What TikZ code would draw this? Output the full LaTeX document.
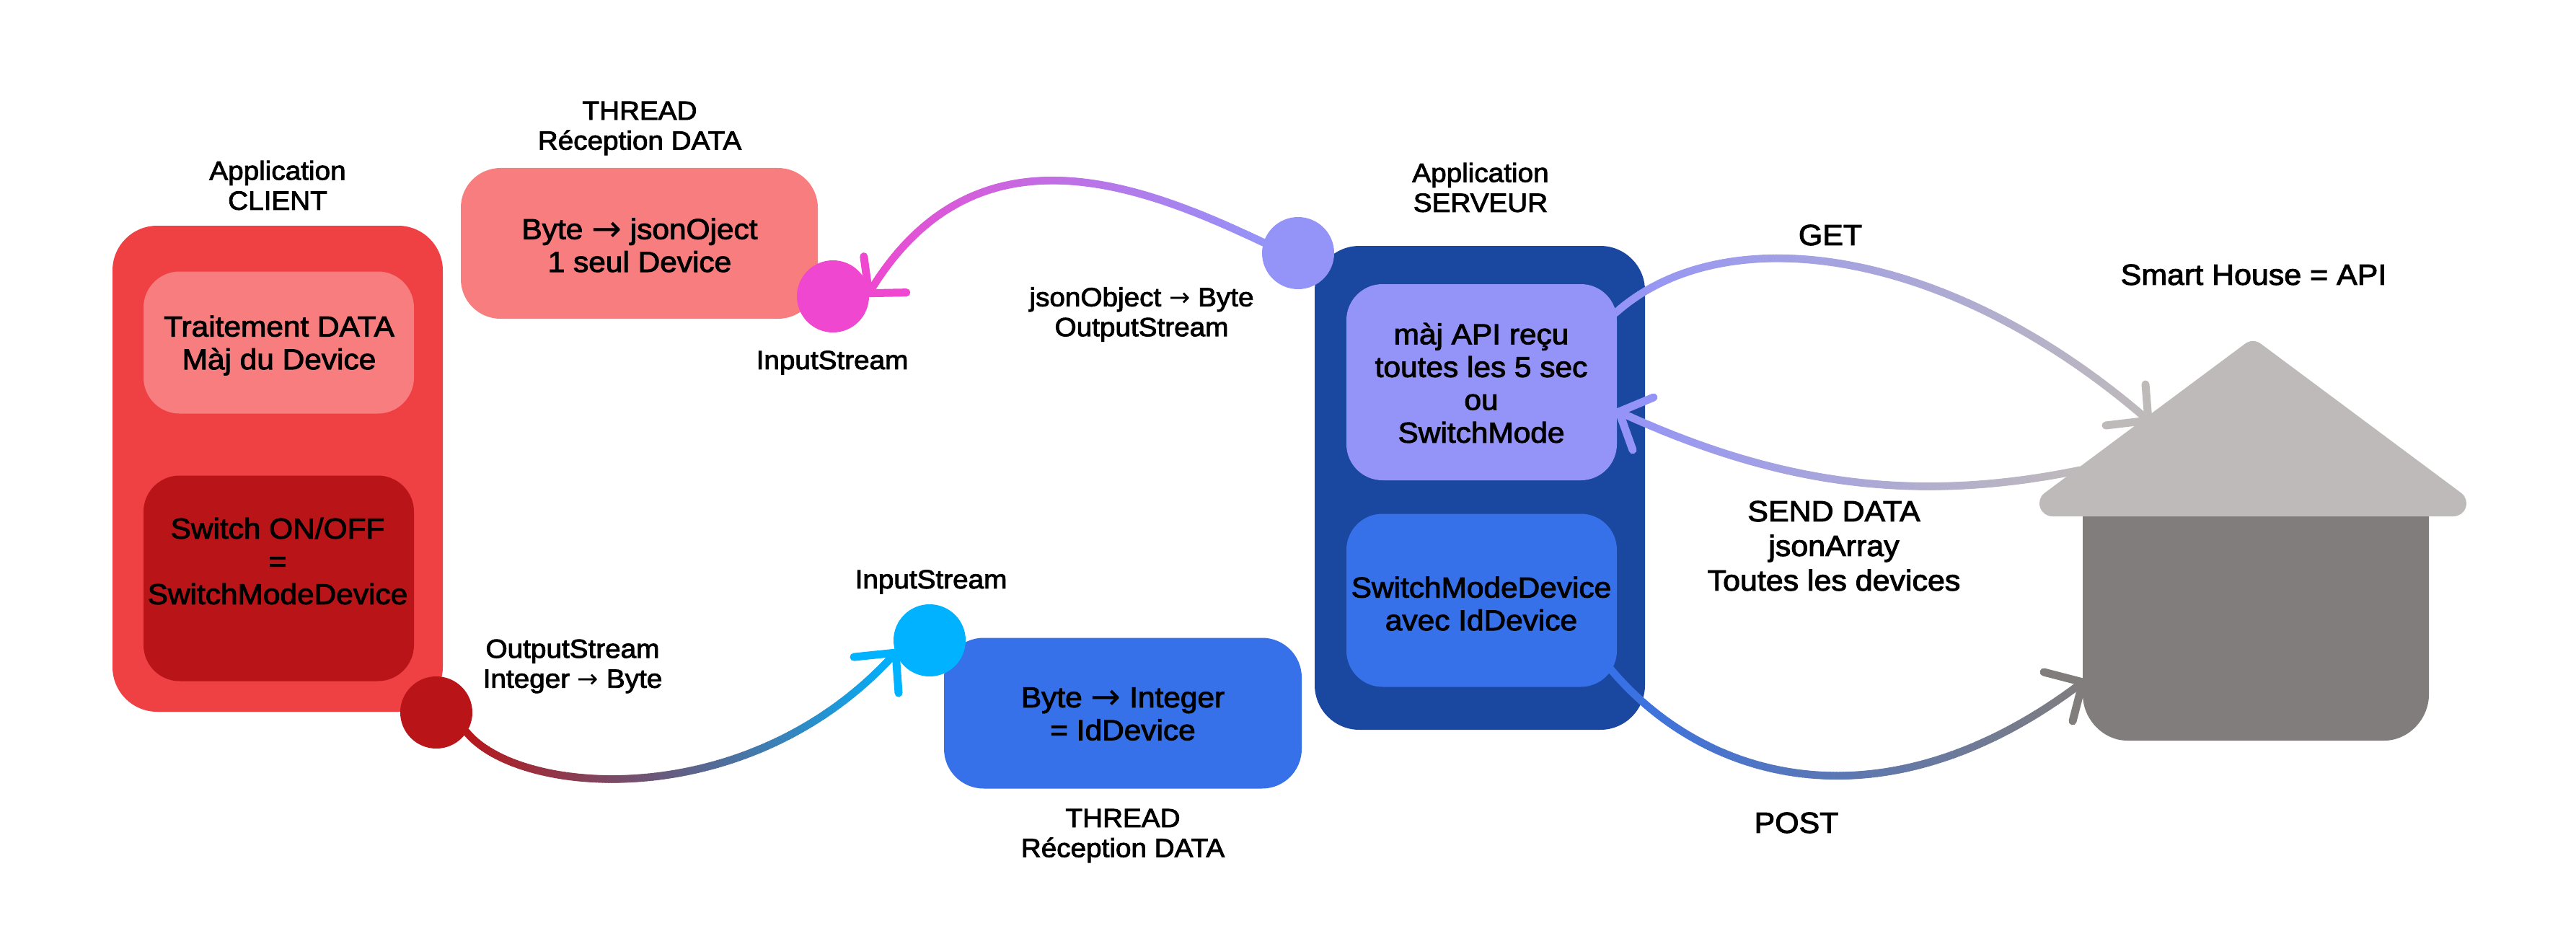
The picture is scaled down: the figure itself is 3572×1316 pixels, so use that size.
\documentclass[tikz,border=0pt]{standalone}
\usepackage{fontspec}
\setmainfont[FakeStretch=1.06,FakeBold=2.5]{Liberation Sans}
\newfontfamily\arrowf{DejaVu Sans}
\newcommand{\bigarrow}{{\arrowf\fontsize{50}{40}\selectfont\raisebox{-3pt}{→}}}
\newcommand{\smallarrow}{{\arrowf\fontsize{35}{40}\selectfont →}}
\usetikzlibrary{decorations.markings}
\definecolor{redouter}{HTML}{EF4044}
\definecolor{redlight}{HTML}{F87D7E}
\definecolor{reddark}{HTML}{B91518}
\definecolor{pinkc}{HTML}{EF47CF}
\definecolor{violetc}{HTML}{9494F8}
\definecolor{navyc}{HTML}{1A479F}
\definecolor{bluec}{HTML}{3671E9}
\definecolor{cyanc}{HTML}{00B2FF}
\definecolor{roofc}{HTML}{BFBABA}
\definecolor{bodyc}{HTML}{817D7C}
\tikzset{
  box/.style={rectangle,draw=none,rounded corners=50pt,inner sep=0pt,outer sep=0pt},
  dot/.style={circle,draw=none,minimum size=100pt,inner sep=0pt,outer sep=0pt},
  lab/.style={align=center,inner sep=0pt,font=\fontsize{36.5}{41.5}\selectfont},
  txt/.style={align=center,inner sep=0pt,font=\fontsize{40}{45.5}\selectfont},
  big/.style={align=center,inner sep=0pt,font=\fontsize{40.5}{48}\selectfont},
  arm/.style={line width=11pt,line cap=round},
  gradcurve/.style 2 args={decoration={markings,
    mark=between positions 0 and 1 step 2pt with {%
      \pgfmathsetmacro\gp{max(0,min(100,100*(1-\pgfkeysvalueof{/pgf/decoration/mark info/distance from start}/\pgfdecoratedpathlength)))}%
      \fill[#1!\gp!#2] (0,0) circle (5.5pt);}},decorate}
}
\begin{document}
\begin{tikzpicture}[x=1pt,y=-1pt]
\useasboundingbox (0,0) rectangle (3572,1316);
\fill[white] (0,0) rectangle (3572,1316);
% client
\node[box,fill=redouter,rounded corners=62pt,minimum width=458pt,minimum height=674pt] (client) at (385,650) {};
\node[box,fill=redlight,minimum width=375pt,minimum height=197pt] (traitement) at (386.5,475) {};
\node[box,fill=reddark,minimum width=375pt,minimum height=285pt] (switch) at (386.5,802) {};
\node[box,fill=redlight,rounded corners=55pt,minimum width=495pt,minimum height=209pt] (threadtop) at (886.5,337.5) {};
\node[box,fill=bluec,rounded corners=55pt,minimum width=496pt,minimum height=209pt] (threadbot) at (1557,989) {};
% server
\node[box,fill=navyc,rounded corners=62pt,minimum width=458pt,minimum height=671pt] (server) at (2052,676.5) {};
\node[box,fill=violetc,minimum width=375pt,minimum height=272pt] (maj) at (2054.5,530) {};
\node[box,fill=bluec,minimum width=375pt,minimum height=240pt] (send) at (2054.5,832.5) {};
% house
\fill[bodyc] (2888,716) -- (2888,963) .. controls (2888,997) and (2916,1027) .. (2950,1027) -- (3306,1027) .. controls (3340,1027) and (3368,997) .. (3368,963) -- (3368,716) -- cycle;
\coordinate (bodyleft) at (2888,946);
\filldraw[roofc,line width=36pt,line join=round] (2846,698) -- (3124,491) -- (3402,698) -- cycle;
\coordinate (roofget) at (2979,583);
\coordinate (roofsend) at (2884,652);
% circles
\node[dot,fill=reddark] (redn) at (605,988) {};
\node[dot,fill=pinkc] (pinkn) at (1155,411) {};
\node[dot,fill=violetc] (violetn) at (1800,351) {};
\node[dot,fill=cyanc] (cyann) at (1289,888) {};
% connectors
\path[gradcurve={reddark}{cyanc}] (redn.-33) .. controls (720,1105) and (1040,1130) .. (cyann.200);
\draw[arm,cyanc] (cyann.200) -- +(-58,6);
\draw[arm,cyanc] (cyann.200) -- +(4,56);
\path[gradcurve={violetc}{pinkc}] (violetn.163) .. controls (1580,255) and (1350,165) .. (pinkn.5);
\draw[arm,pinkc] (pinkn.5) -- +(-7,-51);
\draw[arm,pinkc] (pinkn.5) -- +(52,-1);
\path[gradcurve={violetc}{roofc}] ([xshift=-2pt,yshift=96pt]maj.east) .. controls (2390,300) and (2700,340) .. (roofget);
\draw[arm,roofc] (roofget) -- +(-4,-50);
\draw[arm,roofc] (roofget) -- +(-59,7);
\path[gradcurve={roofc}{violetc}] (roofsend) .. controls (2650,700) and (2460,670) .. ([xshift=3pt,yshift=-41pt]maj.east);
\draw[arm,violetc] ([xshift=3pt,yshift=-41pt]maj.east) -- +(48,-20);
\draw[arm,violetc] ([xshift=3pt,yshift=-41pt]maj.east) -- +(19,53);
\path[gradcurve={bluec}{bodyc}] ([xshift=-9pt,yshift=-95pt]send.east) .. controls (2370,1090) and (2620,1150) .. (bodyleft);
\draw[arm,bodyc] (bodyleft) -- +(-54,-14);
\draw[arm,bodyc] (bodyleft) -- +(-14,54);
% labels
\node[lab] (lclient) at (385,257) {Application\\CLIENT};
\node[lab] (lthreadtop) at (887,178) {THREAD\\Réception DATA};
\node[txt] (tbyte) at (887,340) {Byte \bigarrow{} jsonOject\\1 seul Device};
\node[txt] (ttrait) at (387,479) {Traitement DATA\\Màj du Device};
\node[txt] (tswitch) at (385,778) {Switch ON/OFF\\=\\SwitchModeDevice};
\node[lab] (lin1) at (1154,503) {InputStream};
\node[lab] (lout) at (794,924) {OutputStream\\Integer \smallarrow{} Byte};
\node[lab] (lin2) at (1291,807) {InputStream};
\node[lab] (ljson) at (1583,436) {jsonObject \smallarrow{} Byte\\OutputStream};
\node[lab] (lserver) at (2053,260) {Application\\SERVEUR};
\node[txt] (tmaj) at (2054,531) {màj API reçu\\toutes les 5 sec\\ou\\SwitchMode};
\node[txt] (tsend) at (2054,837) {SwitchModeDevice\\avec IdDevice};
\node[txt] (tint) at (1557,990) {Byte \bigarrow{} Integer\\= IdDevice};
\node[lab] (lthreadbot) at (1557,1159) {THREAD\\Réception DATA};
\node[big] (lget) at (2538,326) {GET};
\node[big] (lsmart) at (3125,381) {Smart House = API};
\node[big] (lsenddata) at (2543,757) {SEND DATA\\jsonArray\\Toutes les devices};
\node[big] (lpost) at (2491,1141) {POST};
\end{tikzpicture}
\end{document}
